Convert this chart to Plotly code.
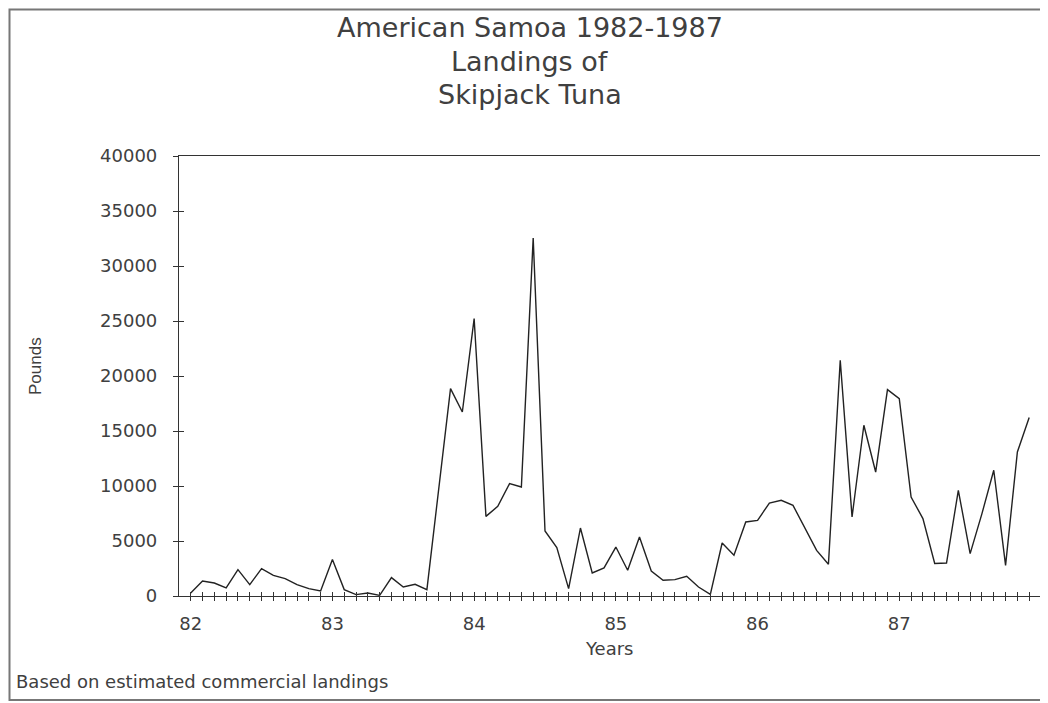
import plotly.graph_objects as go

# ---- data (pounds per month, Jan 1982 .. Dec 1987) ----
years = [82, 83, 84, 85, 86, 87]
landings_82 = [270, 1360, 1180, 730, 2400, 1030, 2490, 1880, 1580, 1030, 670, 450]
landings_83 = [3310, 580, 130, 270, 60, 1670, 820, 1060, 580, 10000, 18850, 16730]
landings_84 = [25220, 7240, 8150, 10220, 9910, 32540, 5910, 4400, 670, 6180, 2090, 2550]
landings_85 = [4450, 2340, 5360, 2270, 1430, 1490, 1790, 820, 150, 4820, 3700, 6730]
landings_86 = [6880, 8450, 8700, 8240, 6120, 4150, 2880, 21430, 7180, 15520, 11270, 18760]
landings_87 = [17940, 9000, 7040, 2950, 3000, 9610, 3850, 7490, 11430, 2790, 13090, 16220]
y_ticks = [0, 5000, 10000, 15000, 20000, 25000, 30000, 35000, 40000]
x_tick_labels = ["82", "83", "84", "85", "86", "87"]

series = [landings_82, landings_83, landings_84, landings_85, landings_86, landings_87]
xs, ys = [], []
for yr, vals in zip(years, series):
    for m, v in enumerate(vals):
        xs.append(yr + m / 12.0)
        ys.append(v)

OFF = 8  # page body margin of the browser
W, H = 1048 - OFF, 703 - OFF
L, R, T, B = 179 - OFF, 1041 - OFF, 156 - OFF, 596 - OFF  # plot area in figure pixels
pw, ph = R - L, B - T


def px(xp):  # screen pixel -> paper
    return (xp - OFF - L) / pw


def py(yp):
    return (B - (yp - OFF)) / ph


FONT = "DejaVu Sans"
TXT = "#404040"
x_range = [82 - 11.7 / 141.6, 88.0]

fig = go.Figure()
fig.add_trace(go.Scatter(x=xs, y=ys, mode="lines",
                         line=dict(color="#222222", width=1.4),
                         showlegend=False, hoverinfo="skip"))
# invisible trace to activate overlay axes (inside ticks)
fig.add_trace(go.Scatter(x=[xs[0]], y=[ys[0]], xaxis="x2", yaxis="y2",
                         mode="lines", line=dict(width=0), showlegend=False,
                         hoverinfo="skip"))

fig.update_layout(
    width=W, height=H,
    margin=dict(l=L, r=W - R, t=T, b=H - B, pad=0),
    paper_bgcolor="white", plot_bgcolor="white",
    xaxis=dict(range=x_range, tickvals=years, ticktext=x_tick_labels,
               ticks="outside", ticklen=4, tickwidth=1, tickcolor="#333",
               showline=True, linecolor="#333", linewidth=1.2, mirror=True,
               showgrid=False, zeroline=False,
               minor=dict(tick0=82, dtick=1 / 12, ticks="outside", ticklen=4,
                          tickwidth=1, tickcolor="#333", showgrid=False),
               tickfont=dict(family=FONT, size=18, color=TXT),
               ticklabelstandoff=7),
    yaxis=dict(range=[0, 40000], tickvals=y_ticks,
               ticktext=[str(v) for v in y_ticks],
               ticks="outside", ticklen=5, tickwidth=1, tickcolor="#333",
               showline=True, linecolor="#333", linewidth=1.2, mirror=True,
               showgrid=False, zeroline=False,
               tickfont=dict(family=FONT, size=18, color=TXT),
               ticklabelstandoff=12),
    xaxis2=dict(range=x_range, overlaying="x", anchor="y", side="bottom",
                tickvals=years, ticks="inside", ticklen=4, tickwidth=1,
                tickcolor="#333", showticklabels=False, showline=False,
                showgrid=False, zeroline=False,
                minor=dict(tick0=82, dtick=1 / 12, ticks="inside", ticklen=4,
                           tickwidth=1, tickcolor="#333", showgrid=False)),
    yaxis2=dict(range=[0, 40000], overlaying="y", anchor="x", side="left",
                tickvals=y_ticks, ticks="inside", ticklen=5, tickwidth=1,
                tickcolor="#333", showticklabels=False, showline=False,
                showgrid=False, zeroline=False),
)

annotations = [
    dict(text="American Samoa 1982-1987", x=px(530), y=py(28)),
    dict(text="Landings of", x=px(530), y=py(61)),
    dict(text="Skipjack Tuna", x=px(530), y=py(94)),
]
for a in annotations:
    fig.add_annotation(xref="paper", yref="paper", showarrow=False,
                       xanchor="center", yanchor="middle",
                       font=dict(family=FONT, size=27, color=TXT), **a)

fig.add_annotation(text="Years", xref="paper", yref="paper", x=px(609), y=py(648),
                   showarrow=False, xanchor="center", yanchor="middle",
                   font=dict(family=FONT, size=18, color=TXT))
fig.add_annotation(text="Based on estimated commercial landings", xref="paper",
                   yref="paper", x=px(14), y=py(681), showarrow=False,
                   xanchor="left", yanchor="middle",
                   font=dict(family=FONT, size=18, color=TXT))
fig.add_annotation(text="Pounds", xref="paper", yref="paper", x=px(35), y=py(366),
                   showarrow=False, xanchor="center", yanchor="middle", textangle=-90,
                   font=dict(family="Liberation Sans", size=17, color=TXT))

# outer frame of the page (kept inside the figure's own area)
fig.add_shape(type="rect", xref="paper", yref="paper",
              x0=px(OFF + 1.5), x1=px(1070), y0=py(700), y1=py(OFF + 1.5),
              line=dict(color="#777", width=2), fillcolor="rgba(0,0,0,0)", layer="below")

fig.write_html("out.html")
